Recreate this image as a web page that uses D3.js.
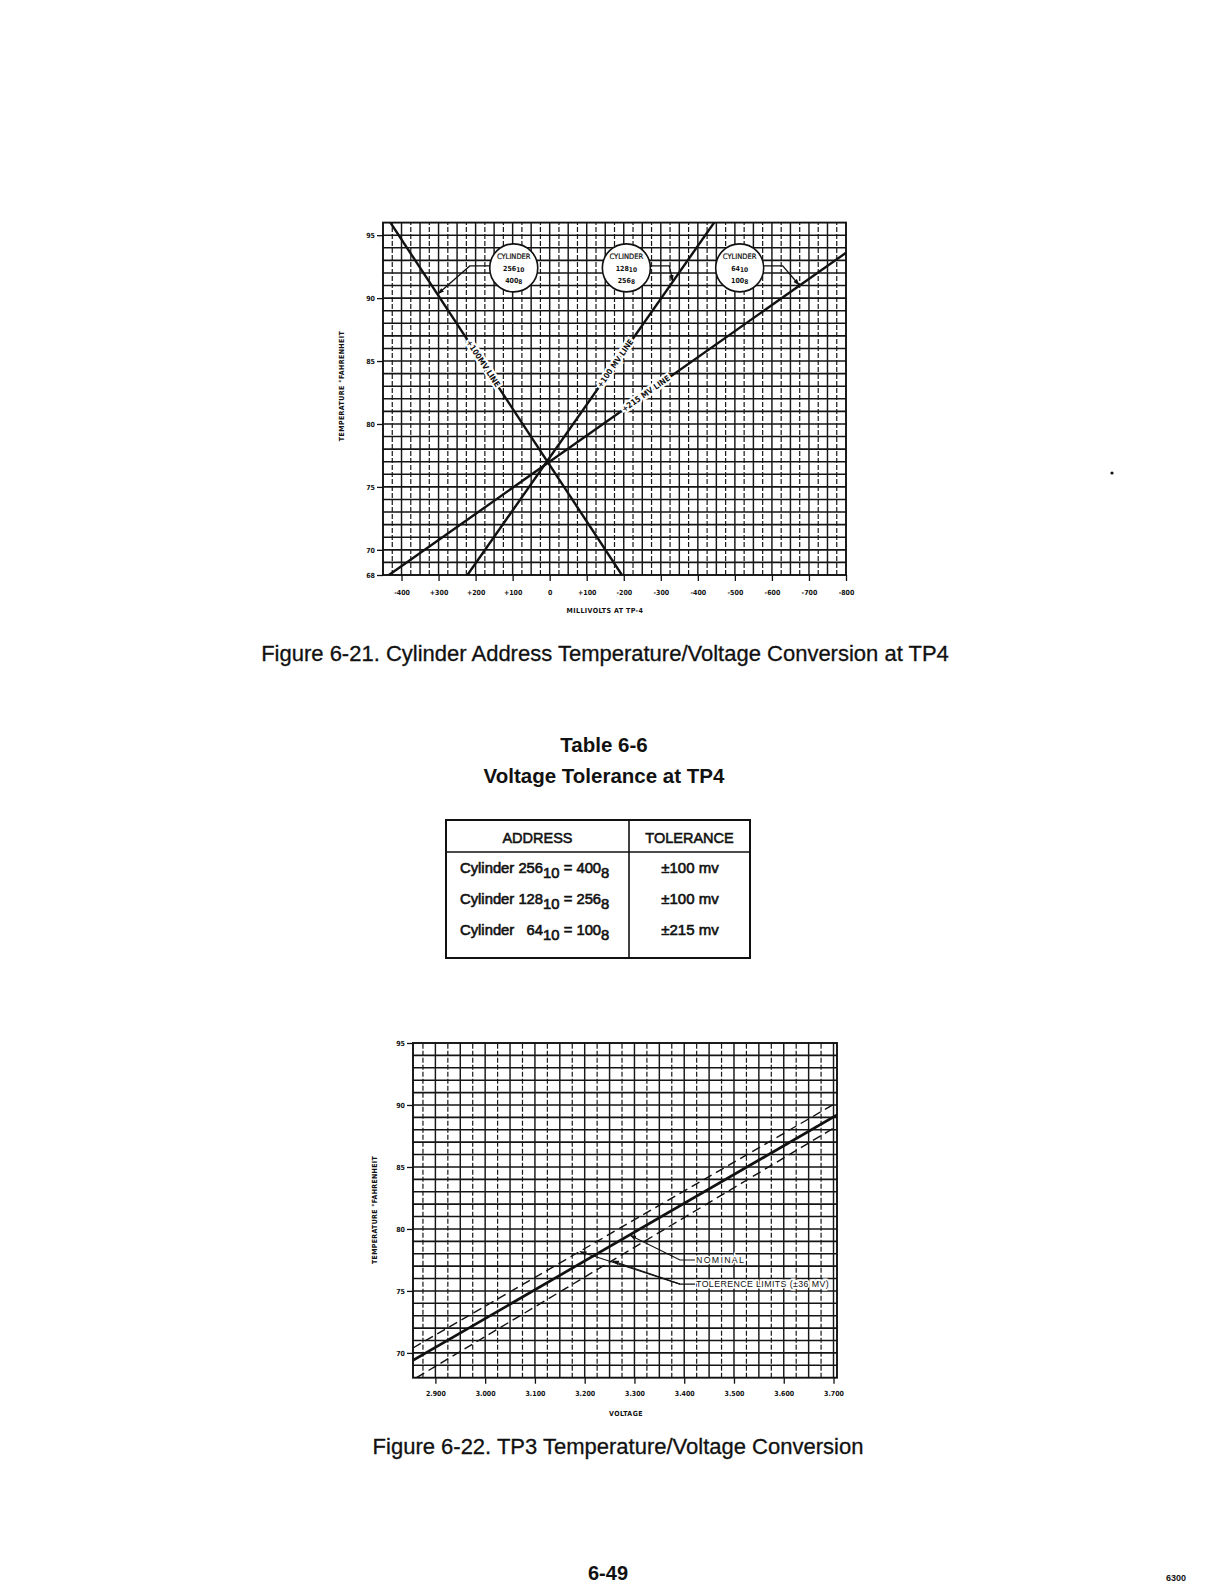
<!DOCTYPE html>
<html><head><meta charset="utf-8">
<script src="https://cdn.jsdelivr.net/npm/d3@7"></script>
<style>
body{margin:0;background:#fff}
text{font-family:"Liberation Sans",Arial,Helvetica,sans-serif;fill:#111}
.narrow{font-family:"Liberation Sans Narrow","DejaVu Sans Condensed","Liberation Sans",sans-serif}
</style>
</head><body>
<svg id="page" width="1224" height="1584" xmlns="http://www.w3.org/2000/svg"></svg>
<script>
// ---------------- DATA ----------------
// Figure 6-21
const mvTicks = [-400,-300,-200,-100,0,100,200,300,400,500,600,700,800];
const mvTickLabels = ["-400","+300","+200","+100","0","+100","-200","-300","-400","-500","-600","-700","-800"];
const topTempTicks = [95,90,85,80,75,70,68];
const line256 = [[-430,96],[195,68]];     // [mV, degF]
const line128 = [[-222,68],[444,96]];
const line64  = [[-434,68],[800,93.6]];
const lineLabels = ["+100MV LINE","+100 MV LINE","+215 MV LINE"];
const lineLabelTemps = [84.8, 84.8, 82.4];
const cylDec = ["256","128","64"];
const cylOct = ["400","256","100"];
const cylTipTemps = [90.3, 91.3, 91.0];

// Figure 6-22
const voltTicks = [2.9,3.0,3.1,3.2,3.3,3.4,3.5,3.6,3.7];
const voltTickLabels = ["2.900","3.000","3.100","3.200","3.300","3.400","3.500","3.600","3.700"];
const botTempTicks = [95,90,85,80,75,70];
const nominal  = [[2.855,69.4],[3.707,89.2]];   // [V, degF]
const tolUpper = [[2.855,70.4],[3.707,90.2]];
const tolLower = [[2.862,68.0],[3.707,88.3]];

// Table 6-6
const tableHeader = ["ADDRESS","TOLERANCE"];
const rowDec = ["256","128","  64"];
const rowOct = ["400","256","100"];
const rowTol = ["\u00B1100 mv","\u00B1100 mv","\u00B1215 mv"];

// ---------------- DRAW ----------------
const svg = d3.select("#page");
svg.append("rect").attr("width",1224).attr("height",1584).attr("fill","#fff");
const defs = svg.append("defs");
defs.append("marker").attr("id","arr").attr("viewBox","0 -4 9 8").attr("refX",9).attr("refY",0)
  .attr("markerWidth",7).attr("markerHeight",6).attr("markerUnits","userSpaceOnUse").attr("orient","auto")
  .append("path").attr("d","M0,-3L9,0L0,3Z").attr("fill","#111");

function interpT(l, t){ return l[0][0] + (t - l[0][1])*(l[1][0]-l[0][0])/(l[1][1]-l[0][1]); }
function interpX(l, x){ return l[0][1] + (x - l[0][0])*(l[1][1]-l[0][1])/(l[1][0]-l[0][0]); }

function grid(g, x, y, xLines, yLines, dashedTest){
  g.selectAll(".h").data(yLines).join("line")
    .attr("x1",x.range()[0]).attr("x2",x.range()[1])
    .attr("y1",d=>y(d)).attr("y2",d=>y(d))
    .attr("stroke","#141414").attr("stroke-width",1.6);
  g.selectAll(".v").data(xLines).join("line")
    .attr("y1",y.range()[0]).attr("y2",y.range()[1])
    .attr("x1",d=>x(d)).attr("x2",d=>x(d))
    .attr("stroke","#181818")
    .attr("stroke-width",d=>dashedTest(d)?1.2:1.45)
    .attr("stroke-dasharray",d=>dashedTest(d)?"5,2":null);
  g.append("rect").attr("x",x.range()[0]).attr("y",y.range()[1])
    .attr("width",x.range()[1]-x.range()[0]).attr("height",y.range()[0]-y.range()[1])
    .attr("fill","none").attr("stroke","#111").attr("stroke-width",1.9);
}

// ===== Figure 6-21 =====
const xT = d3.scaleLinear().domain([-450,800]).range([383,846]);
const yT = d3.scaleLinear().domain([68,96]).range([575,222.6]);
const gT = svg.append("g");
grid(gT, xT, yT, d3.range(-425,800,25), d3.range(69,96,1), d=>Math.abs(d%50)!==0);

const axL = d3.axisLeft(yT).tickValues(topTempTicks).tickSize(6).tickFormat(d3.format("d"));
const gyT = gT.append("g").attr("transform",`translate(${xT.range()[0]},0)`).call(axL);
gyT.select(".domain").remove();
gyT.selectAll("line").attr("stroke","#111").attr("stroke-width",1.3);
gyT.selectAll("text").attr("class","narrow").attr("font-size",7).attr("font-weight","bold").attr("x",-8).attr("fill","#111");

const axB = d3.axisBottom(xT).tickValues(mvTicks).tickSize(6).tickFormat((d,i)=>mvTickLabels[i]);
const gxT = gT.append("g").attr("transform",`translate(0,${yT.range()[0]})`).call(axB);
gxT.select(".domain").remove();
gxT.selectAll("line").attr("stroke","#111").attr("stroke-width",1.3);
gxT.selectAll("text").attr("class","narrow").attr("font-size",7).attr("font-weight","bold").attr("y",15).attr("fill","#111");

defs.append("clipPath").attr("id","clipT").append("rect")
  .attr("x",xT.range()[0]).attr("y",yT(96)).attr("width",xT.range()[1]-xT.range()[0]).attr("height",yT(68)-yT(96));
const lnT = d3.line().x(d=>xT(d[0])).y(d=>yT(d[1]));
const topLines = [line256,line128,line64];
gT.append("g").attr("clip-path","url(#clipT)").selectAll("path").data(topLines).join("path")
  .attr("d",lnT).attr("fill","none").attr("stroke","#111").attr("stroke-width",2.4);

// line labels
topLines.forEach((l,i)=>{
  const t = lineLabelTemps[i];
  const mv = interpT(l,t);
  const px = xT(mv), py = yT(t);
  const dx = xT(l[1][0])-xT(l[0][0]), dy = yT(l[1][1])-yT(l[0][1]);
  let ang = Math.atan2(dy,dx)*180/Math.PI;
  if (ang>90) ang-=180; if (ang<-90) ang+=180;
  gT.append("text").attr("class","narrow").attr("transform",`translate(${px},${py}) rotate(${ang})`)
    .attr("text-anchor","middle").attr("dominant-baseline","central")
    .attr("font-size",8).attr("font-weight","bold")
    .attr("stroke","#fff").attr("stroke-width",4).attr("paint-order","stroke")
    .text(lineLabels[i]);
});

// cylinder callouts
const cylMv = [-97,207,513];
const cyT = yT(92.4), r = 24;
cylMv.forEach((m,i)=>{
  const cx = xT(m);
  const tipMv = interpT(topLines[i], cylTipTemps[i]);
  const tx = xT(tipMv), ty = yT(cylTipTemps[i]);
  const side = i===0 ? -1 : 1;
  const ex = cx + side*r, kx = ex + side*(i===0?20:19);
  gT.append("path").attr("d",`M${ex},${cyT-2}H${kx}L${tx},${ty}`)
    .attr("fill","none").attr("stroke","#111").attr("stroke-width",1.3).attr("marker-end","url(#arr)");
  gT.append("circle").attr("cx",cx).attr("cy",cyT).attr("r",r)
    .attr("fill","#fff").attr("stroke","#111").attr("stroke-width",1.6);
  gT.append("text").attr("class","narrow").attr("x",cx).attr("y",cyT-9).attr("font-size",7.5).attr("text-anchor","middle").attr("stroke","#111").attr("stroke-width",0.2).text("CYLINDER");
  const t2 = gT.append("text").attr("class","narrow").attr("x",cx).attr("y",cyT+3).attr("font-size",7).attr("font-weight","bold").attr("text-anchor","middle");
  t2.append("tspan").text(cylDec[i]);
  t2.append("tspan").attr("dy",1.5).attr("font-size",6.5).text("10");
  const t3 = gT.append("text").attr("class","narrow").attr("x",cx).attr("y",cyT+15).attr("font-size",7).attr("font-weight","bold").attr("text-anchor","middle");
  t3.append("tspan").text(cylOct[i]);
  t3.append("tspan").attr("dy",1.5).attr("font-size",6.5).text("8");
});

// axis titles
gT.append("text").attr("class","narrow").attr("transform","translate(344,386) rotate(-90)")
  .attr("text-anchor","middle").attr("font-size",7).attr("font-weight","bold").attr("letter-spacing",0.4).text("TEMPERATURE \u00B0FAHRENHEIT");
gT.append("text").attr("class","narrow").attr("x",605).attr("y",613)
  .attr("text-anchor","middle").attr("font-size",7).attr("font-weight","bold").attr("letter-spacing",0.4).text("MILLIVOLTS AT TP-4");

svg.append("text").attr("x",605).attr("y",661).attr("text-anchor","middle")
  .attr("font-size",22).attr("stroke","#111").attr("stroke-width",0.3)
  .text("Figure 6-21. Cylinder Address Temperature/Voltage Conversion at TP4");

// ===== Table 6-6 =====
svg.append("text").attr("x",604).attr("y",752).attr("text-anchor","middle").attr("font-size",20.5).attr("font-weight","bold").text("Table 6-6");
svg.append("text").attr("x",604).attr("y",783).attr("text-anchor","middle").attr("font-size",20.5).attr("font-weight","bold").text("Voltage Tolerance at TP4");

const tb = svg.append("g");
const tL=446, tR=750, tTop=820, tBot=958, tMid=629, tHead=852;
tb.append("rect").attr("x",tL).attr("y",tTop).attr("width",tR-tL).attr("height",tBot-tTop)
  .attr("fill","none").attr("stroke","#111").attr("stroke-width",2);
tb.append("line").attr("x1",tMid).attr("x2",tMid).attr("y1",tTop).attr("y2",tBot).attr("stroke","#111").attr("stroke-width",1.6);
tb.append("line").attr("x1",tL).attr("x2",tR).attr("y1",tHead).attr("y2",tHead).attr("stroke","#111").attr("stroke-width",1.6);
tb.selectAll(".hd").data(tableHeader).join("text")
  .attr("x",(d,i)=>i===0?(tL+tMid)/2:(tMid+tR)/2).attr("y",tTop+23)
  .attr("text-anchor","middle").attr("font-size",14.5).attr("stroke","#111").attr("stroke-width",0.55).text(d=>d);
rowDec.forEach((d,i)=>{
  const y = 873 + i*31;
  const t = tb.append("text").attr("x",460).attr("y",y).attr("font-size",14.8)
    .attr("stroke","#111").attr("stroke-width",0.6).attr("xml:space","preserve").style("white-space","pre");
  t.append("tspan").text("Cylinder " + d);
  t.append("tspan").attr("dy",5).text("10");
  t.append("tspan").attr("dy",-5).text(" = " + rowOct[i]);
  t.append("tspan").attr("dy",5).text("8");
  tb.append("text").attr("x",690).attr("y",y).attr("text-anchor","middle").attr("font-size",15)
    .attr("stroke","#111").attr("stroke-width",0.6).text(rowTol[i]);
});

// ===== Figure 6-22 =====
const xB = d3.scaleLinear().domain([2.855,3.707]).range([413,837]);
const yB = d3.scaleLinear().domain([68,95]).range([1377.7,1043]);
const gB = svg.append("g");
grid(gB, xB, yB, d3.range(2875,3707,25).map(v=>v/1000), d3.range(69,95,1), d=>Math.round(d*1000)%50!==0);

const ayB = d3.axisLeft(yB).tickValues(botTempTicks).tickSize(6).tickFormat(d3.format("d"));
const gyB = gB.append("g").attr("transform",`translate(${xB.range()[0]},0)`).call(ayB);
gyB.select(".domain").remove();
gyB.selectAll("line").attr("stroke","#111").attr("stroke-width",1.3);
gyB.selectAll("text").attr("class","narrow").attr("font-size",7).attr("font-weight","bold").attr("x",-8).attr("fill","#111");

const axB2 = d3.axisBottom(xB).tickValues(voltTicks).tickSize(6).tickFormat((d,i)=>voltTickLabels[i]);
const gxB = gB.append("g").attr("transform",`translate(0,${yB.range()[0]})`).call(axB2);
gxB.select(".domain").remove();
gxB.selectAll("line").attr("stroke","#111").attr("stroke-width",1.3);
gxB.selectAll("text").attr("class","narrow").attr("font-size",7).attr("font-weight","bold").attr("y",13).attr("fill","#111");

defs.append("clipPath").attr("id","clipB").append("rect")
  .attr("x",413).attr("y",1043).attr("width",424).attr("height",1377.7-1043);
const lnB = d3.line().x(d=>xB(d[0])).y(d=>yB(d[1]));
const cB = gB.append("g").attr("clip-path","url(#clipB)");
cB.append("path").datum(nominal).attr("d",lnB).attr("fill","none").attr("stroke","#111").attr("stroke-width",2.7);
cB.selectAll(".tol").data([tolUpper,tolLower]).join("path").attr("d",lnB)
  .attr("fill","none").attr("stroke","#111").attr("stroke-width",1.4).attr("stroke-dasharray","9,5");

// annotations
const kneeX = xB(3.3915), textX = xB(3.4217);
const nomV = 3.29, tU = 3.19, tLw = 3.255;
const yNom = yB(77.5), yTol = yB(75.55);
gB.append("path").attr("d",`M${textX},${yNom}H${kneeX}L${xB(nomV)},${yB(interpX(nominal,nomV))}`)
  .attr("fill","none").attr("stroke","#111").attr("stroke-width",1.1).attr("marker-end","url(#arr)");
gB.append("path").attr("d",`M${textX},${yTol}H${kneeX}L${xB(tU)},${yB(interpX(tolUpper,tU))}`)
  .attr("fill","none").attr("stroke","#111").attr("stroke-width",1.1).attr("marker-end","url(#arr)");
gB.append("path").attr("d",`M${kneeX},${yTol}L${xB(tLw)},${yB(interpX(tolLower,tLw))}`)
  .attr("fill","none").attr("stroke","#111").attr("stroke-width",1.1).attr("marker-end","url(#arr)");
gB.append("text").attr("x",textX+1).attr("y",yNom).attr("dominant-baseline","central")
  .attr("font-size",8.8).attr("letter-spacing",1.3).attr("stroke","#fff").attr("stroke-width",3).attr("paint-order","stroke").text("NOMINAL");
gB.append("text").attr("x",textX+1).attr("y",yTol).attr("dominant-baseline","central")
  .attr("font-size",8.8).attr("letter-spacing",0.4).attr("stroke","#fff").attr("stroke-width",3).attr("paint-order","stroke").text("TOLERENCE LIMITS (\u00B136 MV)");

gB.append("text").attr("class","narrow").attr("transform","translate(377,1210) rotate(-90)")
  .attr("text-anchor","middle").attr("font-size",7).attr("font-weight","bold").attr("letter-spacing",0.3).text("TEMPERATURE \u00B0FAHRENHEIT");
gB.append("text").attr("class","narrow").attr("x",626).attr("y",1416)
  .attr("text-anchor","middle").attr("font-size",7).attr("font-weight","bold").attr("letter-spacing",0.4).text("VOLTAGE");

svg.append("text").attr("x",618).attr("y",1454).attr("text-anchor","middle")
  .attr("font-size",22).attr("stroke","#111").attr("stroke-width",0.3)
  .text("Figure 6-22. TP3 Temperature/Voltage Conversion");

// page footer
svg.append("text").attr("x",608).attr("y",1580).attr("text-anchor","middle").attr("font-size",20).attr("font-weight","bold").text("6-49");
svg.append("text").attr("x",1176).attr("y",1581).attr("text-anchor","middle").attr("font-size",9).attr("font-weight","bold").text("6300");
svg.append("circle").attr("cx",1112).attr("cy",473).attr("r",1.6).attr("fill","#111");
</script>
</body></html>
